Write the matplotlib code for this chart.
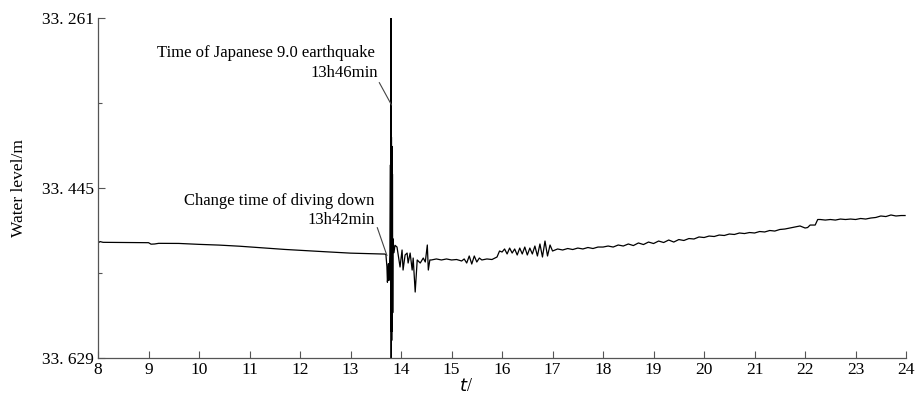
import matplotlib
matplotlib.use("Agg")
import matplotlib.pyplot as plt
import numpy as np

# water level (m, depth below ground) against time of day (h)
t_pre = [8.00, 8.04, 8.10, 8.60, 9.00, 9.05, 9.12, 9.20, 9.60, 10.00, 10.40, 10.80,
         11.30, 11.70, 12.10, 12.50, 13.00, 13.30, 13.60, 13.68]
lvl_pre = [33.5045, 33.5030, 33.5038, 33.5040, 33.5042, 33.5058, 33.5056, 33.5049,
           33.5050, 33.5060, 33.5068, 33.5080, 33.5100, 33.5115, 33.5128, 33.5140,
           33.5155, 33.5160, 33.5164, 33.5165]

# diving down before the earthquake, then the seismic oscillation
t_quake = [13.70, 13.72, 13.73, 13.74, 13.75, 13.76, 13.77, 13.78,
           13.790, 13.795, 13.800, 13.805, 13.810, 13.815, 13.820, 13.825,
           13.830, 13.835, 13.840]
lvl_quake = [33.5170, 33.5300, 33.5470, 33.5400, 33.5270, 33.5450, 33.5330, 33.5150,
             33.4200, 33.6000, 33.2610, 33.6290, 33.3900, 33.6100, 33.4000, 33.6000,
             33.4300, 33.5800, 33.5000]

t_after = [13.86, 13.88, 13.92, 13.95, 13.98, 14.02, 14.04, 14.08, 14.12, 14.14,
           14.18, 14.22, 14.24, 14.28, 14.32, 14.38, 14.44, 14.48, 14.52, 14.54, 14.57]
lvl_after = [33.5150, 33.5070, 33.5089, 33.5200, 33.5305, 33.5121, 33.5338, 33.5175,
             33.5154, 33.5262, 33.5154, 33.5338, 33.5208, 33.5576, 33.5229, 33.5262,
             33.5208, 33.5251, 33.5067, 33.5338, 33.5229]

t_post = [14.6, 14.7, 14.8, 14.9, 15.0, 15.1, 15.2, 15.25, 15.3, 15.35, 15.4, 15.45,
          15.5, 15.55, 15.6, 15.7, 15.8, 15.9, 15.95, 16.0, 16.05, 16.1, 16.15, 16.2,
          16.25, 16.3, 16.35, 16.4, 16.45, 16.5, 16.55, 16.6, 16.65, 16.7, 16.75, 16.8,
          16.85, 16.9, 16.95, 17.0, 17.1, 17.2, 17.3, 17.4, 17.5, 17.6, 17.7, 17.8,
          17.9, 18.0, 18.1, 18.2, 18.3, 18.4, 18.5, 18.6, 18.7, 18.8, 18.9, 19.0,
          19.1, 19.2, 19.3, 19.4, 19.5, 19.6, 19.7, 19.8, 19.9, 20.0, 20.1, 20.2,
          20.3, 20.4, 20.5, 20.6, 20.7, 20.8, 20.9, 21.0, 21.1, 21.2, 21.3, 21.4,
          21.5, 21.6, 21.7, 21.8, 21.9, 22.0, 22.05, 22.1, 22.2, 22.25, 22.3, 22.4,
          22.5, 22.6, 22.7, 22.8, 22.9, 23.0, 23.1, 23.2, 23.3, 23.4, 23.5, 23.6,
          23.7, 23.8, 23.9, 23.98]
lvl_post = [33.5229, 33.5218, 33.5229, 33.5218, 33.5229, 33.5224, 33.5240, 33.5218,
            33.5262, 33.5186, 33.5273, 33.5186, 33.5251, 33.5208, 33.5229, 33.5218,
            33.5224, 33.5197, 33.5132, 33.5143, 33.5110, 33.5164, 33.5100, 33.5154,
            33.5110, 33.5175, 33.5100, 33.5164, 33.5089, 33.5175, 33.5100, 33.5164,
            33.5078, 33.5186, 33.5056, 33.5197, 33.5024, 33.5186, 33.5067, 33.5132,
            33.5110, 33.5121, 33.5105, 33.5116, 33.5100, 33.5110, 33.5094, 33.5105,
            33.5089, 33.5089, 33.5078, 33.5089, 33.5067, 33.5078, 33.5056, 33.5073,
            33.5045, 33.5062, 33.5035, 33.5051, 33.5024, 33.5040, 33.5013, 33.5035,
            33.5008, 33.5018, 33.4997, 33.5002, 33.4980, 33.4986, 33.4970, 33.4975,
            33.4959, 33.4964, 33.4948, 33.4953, 33.4937, 33.4943, 33.4932, 33.4937,
            33.4921, 33.4926, 33.4910, 33.4916, 33.4899, 33.4894, 33.4883, 33.4872,
            33.4861, 33.4883, 33.4878, 33.4851, 33.4851, 33.4791, 33.4791, 33.4797,
            33.4791, 33.4797, 33.4786, 33.4791, 33.4786, 33.4791, 33.4780, 33.4786,
            33.4775, 33.4769, 33.4753, 33.4759, 33.4742, 33.4753, 33.4748, 33.4748]

x_ticks = list(range(8, 25))
y_ticks = [33.261, 33.445, 33.629]
y_minor = [33.353, 33.537]

plt.rcParams['font.family'] = ['Liberation Serif', 'DejaVu Serif']

t_all = t_pre + t_quake + t_after + t_post
lvl_all = lvl_pre + lvl_quake + lvl_after + lvl_post

fig = plt.figure(figsize=(9.17, 4.0), dpi=100)
ax = fig.add_axes([0.1069, 0.105, 0.8812, 0.85])

ax.plot(t_all, lvl_all, color='black', linewidth=0.9)

ax.set_xlim(8, 24)
ax.set_ylim(33.629, 33.261)
ax.set_xticks(x_ticks)
ax.set_xticklabels([str(v) for v in x_ticks], fontsize=12.5)
ax.set_yticks(y_ticks)
ax.set_yticklabels([f"{v:.3f}".replace('.', '. ') for v in y_ticks], fontsize=12.5)
ax.set_yticks(y_minor, minor=True)
ax.tick_params(axis='both', direction='in', length=5, width=0.8, color='#555555', pad=3)
ax.tick_params(axis='y', which='minor', direction='in', length=3, width=0.8, color='#555555')
for s in ['top', 'right']:
    ax.spines[s].set_visible(False)
for s in ['left', 'bottom']:
    ax.spines[s].set_color('#555555')
    ax.spines[s].set_linewidth(0.9)

ax.set_ylabel('Water level/m', fontsize=12.5)
ax.yaxis.set_label_coords(-0.088, 0.5)
ax.set_xlabel('$t$/', fontsize=13)
ax.xaxis.set_label_coords(0.455, -0.06)

# annotations
ax.text(13.48, 33.299, 'Time of Japanese 9.0 earthquake', fontsize=12, ha='right', va='center')
ax.text(13.54, 33.320, '13h46min', fontsize=12, ha='right', va='center')
ax.plot([13.57, 13.81], [33.331, 33.355], color='#444444', linewidth=0.8)

ax.text(13.48, 33.459, 'Change time of diving down', fontsize=12, ha='right', va='center')
ax.text(13.48, 33.480, '13h42min', fontsize=12, ha='right', va='center')
ax.plot([13.53, 13.72], [33.488, 33.518], color='#444444', linewidth=0.8)

fig.savefig('out.png', dpi=100)
